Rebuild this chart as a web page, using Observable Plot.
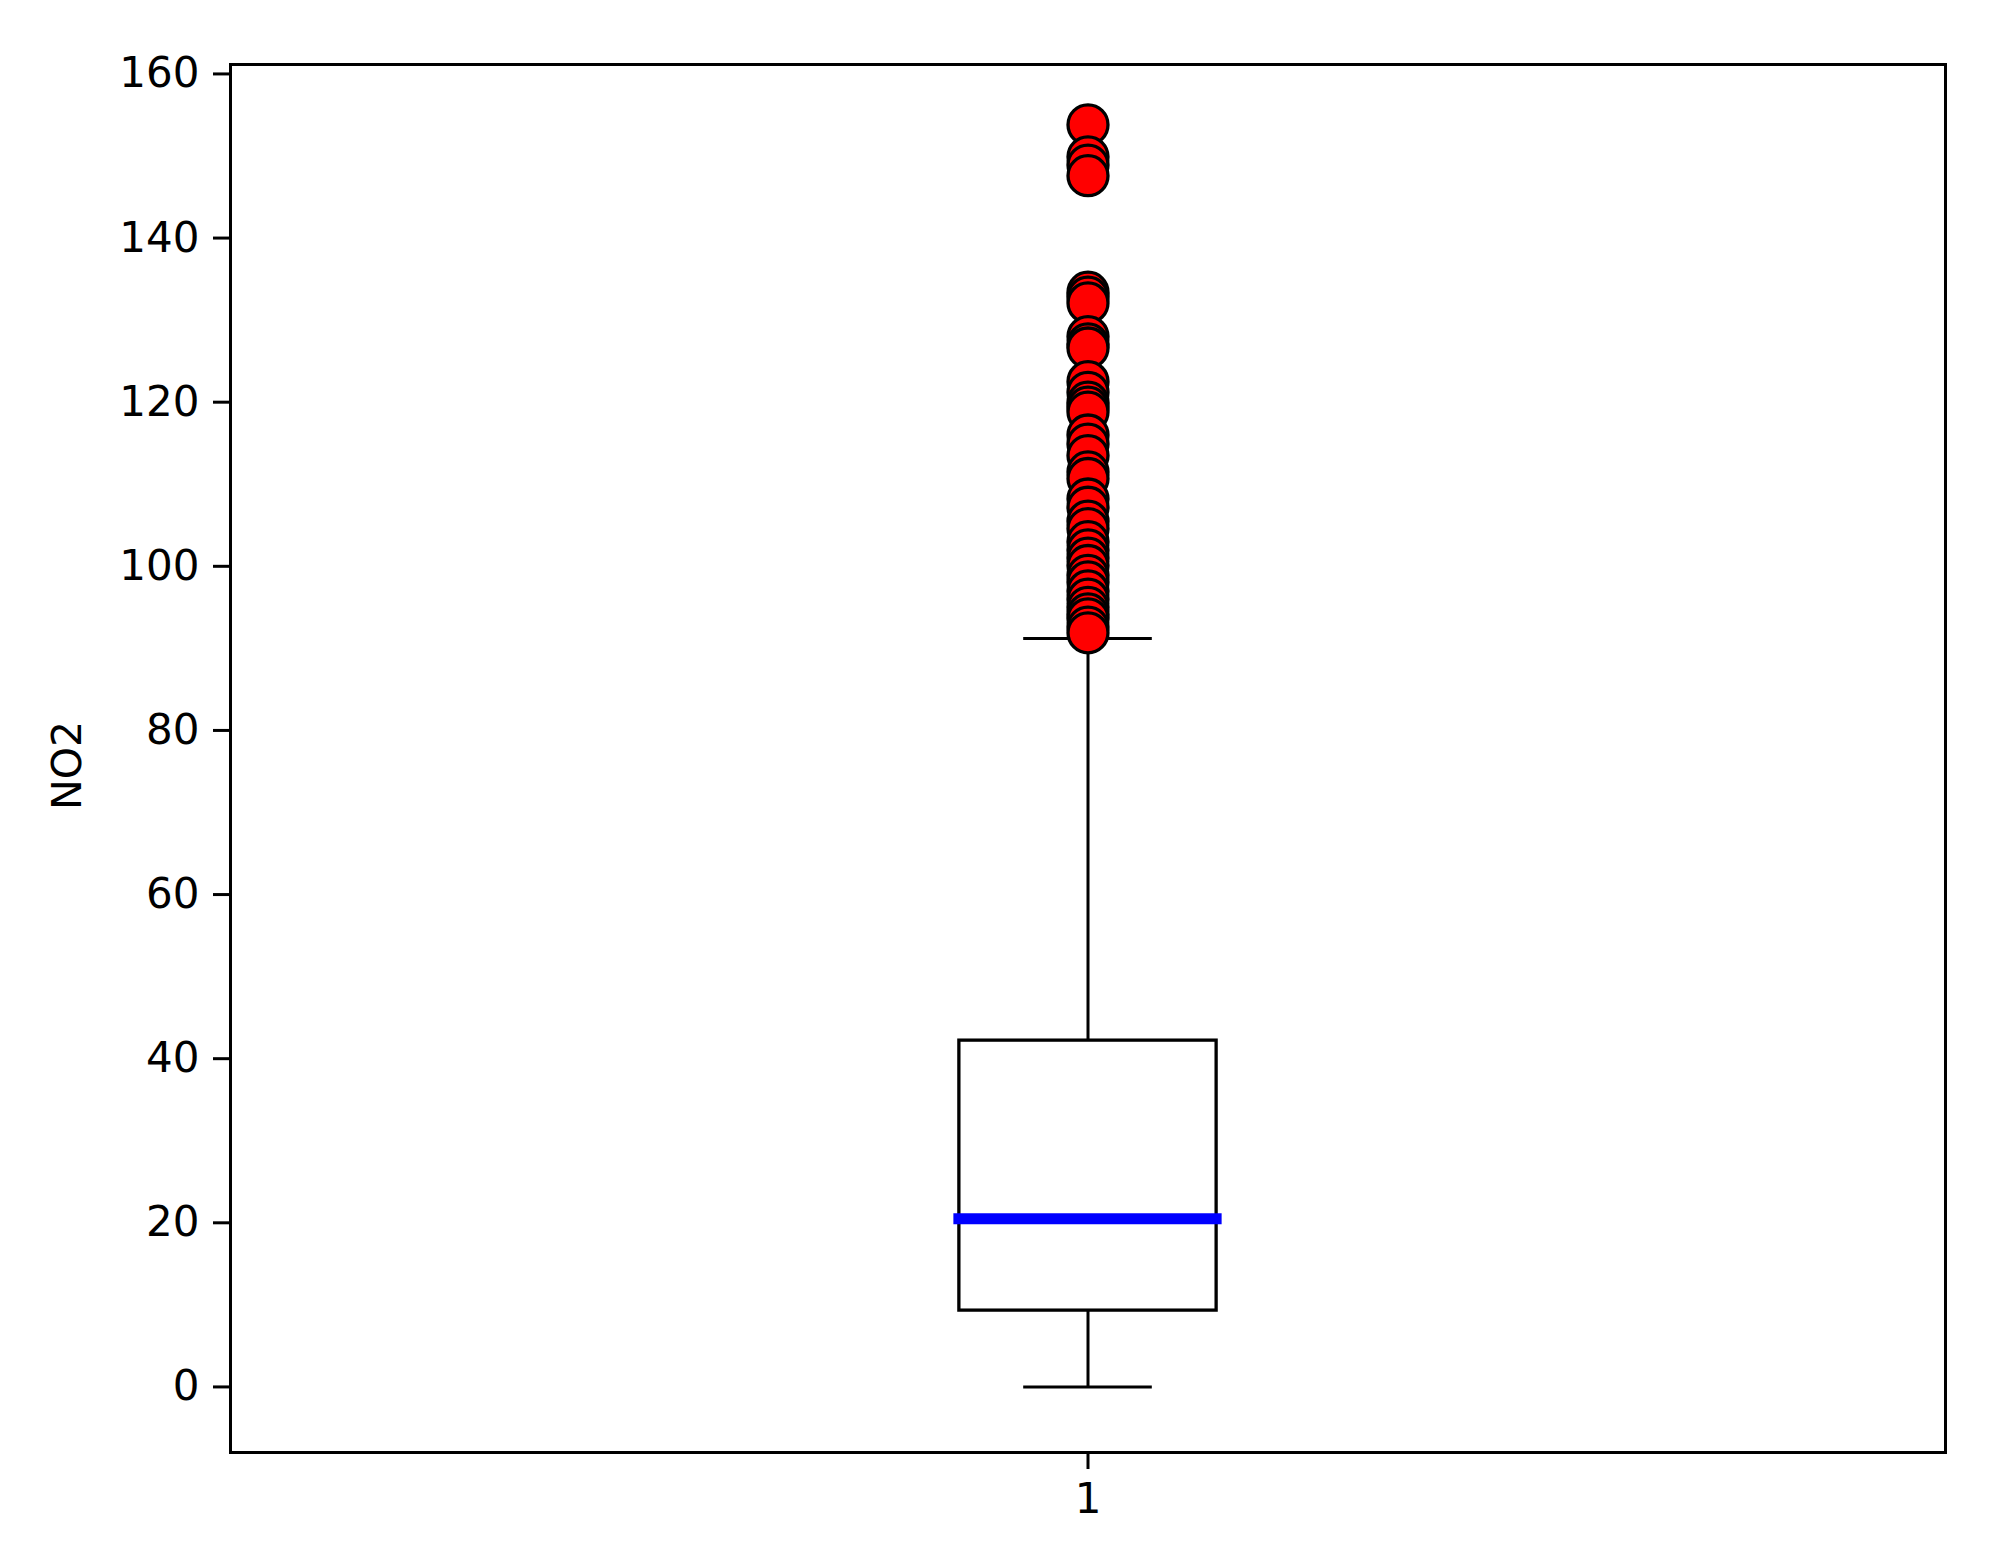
<!DOCTYPE html>
<html>
<head>
<meta charset="utf-8">
<script src="https://cdn.jsdelivr.net/npm/d3@7"></script>
<script src="https://cdn.jsdelivr.net/npm/@observablehq/plot@0.6"></script>
<style>
  html, body { margin: 0; padding: 0; background: #fff; }
  #chart { width: 1989px; height: 1555px; }
</style>
</head>
<body>
<div id="chart"></div>
<script>
// Box statistics (NO2)
const category = [1];
const whiskerLow = [0];
const q1 = [9.3];
const median = [20.5];
const q3 = [42.2];
const whiskerHigh = [91.2];
const outliers = [153.8, 149.9, 148.9, 147.6, 133.4, 132.8, 132.1, 128.0, 127.1, 126.6,
  122.5, 121.2, 120.0, 119.4, 118.8, 116.0, 114.9, 113.5, 111.5, 110.7, 108.2, 107.2,
  105.5, 104.6, 103.0, 102.0, 101.0, 100.1, 98.9, 98.1, 97.0, 96.0, 95.0, 94.2, 93.6,
  92.6, 91.9];
const yTicks = [0, 20, 40, 60, 80, 100, 120, 140, 160];
const xTicks = [1];
const yLabel = "NO2";

const boxHalf = 0.075, capHalf = 0.0375;
const stats = category.map((c, i) => ({
  x: c, lo: whiskerLow[i], q1: q1[i], med: median[i], q3: q3[i], hi: whiskerHigh[i]
}));
const fliers = outliers.map(v => ({x: category[0], y: v}));

const chart = Plot.plot({
  width: 1989,
  height: 1555,
  marginLeft: 230,
  marginRight: 44,
  marginTop: 64,
  marginBottom: 103,
  style: {fontFamily: "DejaVu Sans", fontSize: "42px", color: "#000", background: "#fff"},
  x: {type: "linear", domain: [0.5, 1.5]},
  y: {domain: [-7.99, 161.15]},
  marks: [
    Plot.ruleX(stats, {x: "x", y1: "q3", y2: "hi", stroke: "#000", strokeWidth: 3}),
    Plot.ruleX(stats, {x: "x", y1: "lo", y2: "q1", stroke: "#000", strokeWidth: 3}),
    Plot.rect(stats, {x1: d => d.x - boxHalf, x2: d => d.x + boxHalf, y1: "q1", y2: "q3",
      fill: "#fff", stroke: "#000", strokeWidth: 3.3}),
    Plot.ruleY(stats, {y: "lo", x1: d => d.x - capHalf, x2: d => d.x + capHalf, stroke: "#000", strokeWidth: 3}),
    Plot.ruleY(stats, {y: "hi", x1: d => d.x - capHalf, x2: d => d.x + capHalf, stroke: "#000", strokeWidth: 3}),
    Plot.ruleY(stats, {y: "med", x1: d => d.x - boxHalf, x2: d => d.x + boxHalf, stroke: "#0000ff",
      strokeWidth: 11, strokeLinecap: "square"}),
    Plot.dot(fliers, {x: "x", y: "y", r: 20, fill: "#ff0000", stroke: "#000", strokeWidth: 3.3, fillOpacity: 1}),
    Plot.frame({stroke: "#000", strokeWidth: 3}),
    Plot.axisY({ticks: yTicks, tickSize: 17, tickPadding: 14, strokeWidth: 3, label: null, tickFormat: d => String(d)}),
    Plot.axisX({ticks: xTicks, tickSize: 17, tickPadding: 14, strokeWidth: 3, label: null, tickFormat: d => String(d)}),
    Plot.text([yLabel], {frameAnchor: "left", textAnchor: "middle", text: d => d, rotate: -90, dx: -163, dy: 7, fontSize: 41, fill: "#000"})
  ]
});
document.getElementById("chart").appendChild(chart);
</script>
</body>
</html>
